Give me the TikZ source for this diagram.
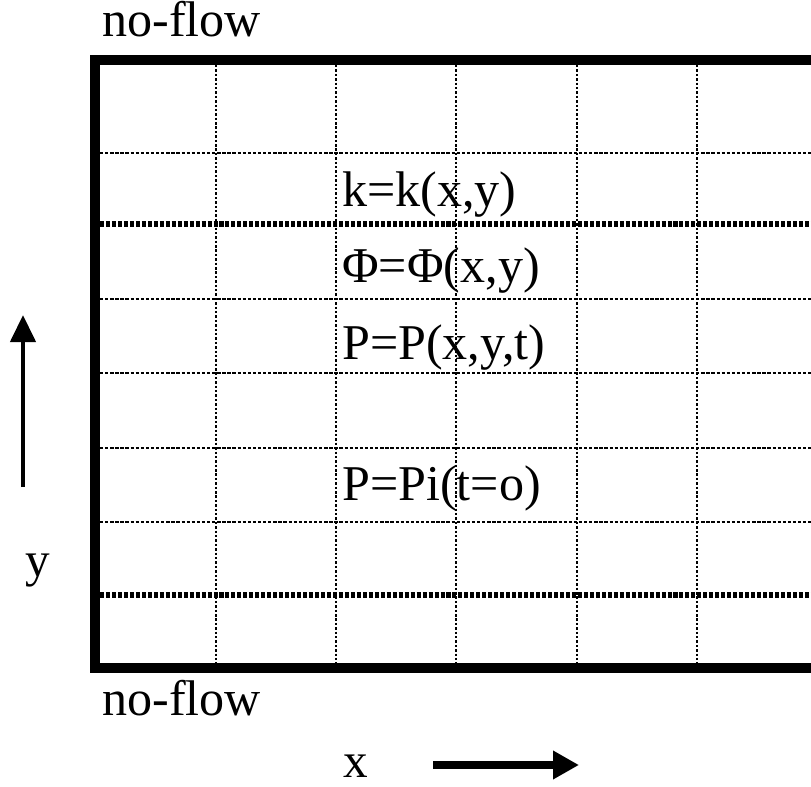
\documentclass[tikz,border=0pt]{standalone}
\usepackage{fontspec}
\setmainfont{Liberation Serif}
\usetikzlibrary{arrows.meta}

\begin{document}
\begin{tikzpicture}[
  x=0.02cm, y=-0.02cm,
  wall/.style={line width=5.7pt, line join=miter},
  rowline/.style={line width=1.7pt, dash pattern=on 1.9pt off 1.0pt},
  layer/.style={line width=3.8pt, dash pattern=on 2.3pt off 1.1pt},
  colline/.style={line width=1.6pt, dash pattern=on 1.4pt off 1.1pt},
  eqn/.style={font=\fontsize{28.5}{34}\selectfont, anchor=base west, inner sep=0pt},
  ax/.style={font=\fontsize{28}{32}\selectfont, anchor=base, inner sep=0pt, text depth=0pt},
]
\clip (0,0) rectangle (811,787);

% grid of cells
\foreach \c in {216,336,456,577,697}
  \draw[colline] (\c,65) -- (\c,663);
\foreach \r in {153,299,373,448,522}
  \draw[rowline] (100,\r) -- (811,\r);
\foreach \r in {224,595}
  \draw[layer] (100,\r) -- (811,\r);

% no-flow walls
\draw[wall] (825,60) -- (95,60) -- (95,668) -- (825,668);

\node[eqn] (top) at (102,37) {no-flow};
\node[eqn] (bottom) at (102,715) {no-flow};

% properties
\node[eqn] (perm) at (342,207) {k=k(x,y)};
\node[eqn] (poro) at (342,282) {Φ=Φ(x,y)};
\node[eqn] (press) at (342,359) {P=P(x,y,t)};
\node[eqn] (init) at (342,500) {P=Pi(t=o)};

% axes
\node[ax] (ylab) at (38,576) {y};
\node[ax] (xlab) at (356,777) {x};
\coordinate (ys) at (23,487);
\coordinate (ye) at (23,315);
\coordinate (xs) at (433,765);
\coordinate (xe) at (579,765);
\draw[line width=2.6pt, -{Triangle[length=15.4pt, width=14.2pt]}] (ys) -- (ye);
\draw[line width=4.5pt, -{Triangle[length=14.8pt, width=15.4pt]}] (xs) -- (xe);
\end{tikzpicture}
\end{document}
